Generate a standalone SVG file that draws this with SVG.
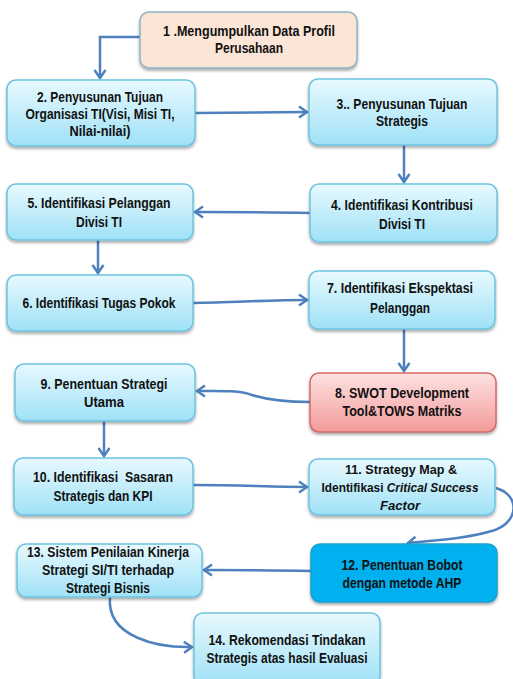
<svg xmlns="http://www.w3.org/2000/svg" width="513" height="679" viewBox="0 0 513 679">
<style>
  text { font-family: "Liberation Sans", Arial, sans-serif; font-weight: bold; font-size: 14px; fill: #111; text-anchor: middle; }
  .sm { font-size: 13px; }
  .it { font-style: italic; }
  .box { fill: url(#cyan); stroke: #6cc3e0; stroke-width: 1.5; filter: url(#sh); }
  .peach { fill: #fbe5d6; stroke: #8fb3c6; stroke-width: 1.5; filter: url(#sh); }
  .red { fill: url(#redg); stroke: #d46a6a; stroke-width: 1.5; filter: url(#sh); }
  .blue { fill: #00b0ef; stroke: #1aa0d0; stroke-width: 1.5; filter: url(#sh); }
  .con { fill: none; stroke: #4f81bd; stroke-width: 2.5; marker-end: url(#arr); }
</style>
<defs>
  <linearGradient id="cyan" x1="0" y1="0" x2="0" y2="1">
    <stop offset="0" stop-color="#e8f9fe"/>
    <stop offset="1" stop-color="#9fe1f7"/>
  </linearGradient>
  <linearGradient id="redg" x1="0" y1="0" x2="0" y2="1">
    <stop offset="0" stop-color="#fde2e2"/>
    <stop offset="1" stop-color="#f49a9a"/>
  </linearGradient>
  <filter id="sh" x="-10%" y="-10%" width="120%" height="130%">
    <feDropShadow dx="0" dy="2" stdDeviation="1.5" flood-color="#000" flood-opacity="0.35"/>
  </filter>
  <marker id="arr" markerUnits="userSpaceOnUse" markerWidth="14" markerHeight="14" viewBox="0 0 14 14" refX="11" refY="7" orient="auto">
    <path d="M3,1.5 L11,7 L3,12.5" fill="none" stroke="#4f81bd" stroke-width="2.5"/>
  </marker>
</defs>

<g id="connectors">
  <path class="con" d="M140,37 H100 V78"/>
  <path class="con" d="M195,113 L307,112"/>
  <path class="con" d="M404,145 V182"/>
  <path class="con" d="M310,213 C270,212 240,212 195,212"/>
  <path class="con" d="M98,240 V273"/>
  <path class="con" d="M193,303 C240,302 270,300 307,300"/>
  <path class="con" d="M404,329 V371"/>
  <path class="con" d="M310,402 C280,402 265,399 252,395 C238,390 220,391 197,391"/>
  <path class="con" d="M104,421 V456"/>
  <path class="con" d="M193,485 C240,485 270,487 307,487"/>
  <path class="con" d="M496,488 C520,495 519,521 495,530 C470,538 440,540 408,543"/>
  <path class="con" d="M311,571 C270,570 240,570 204,570"/>
  <path class="con" d="M110,597 C106,638 160,648 192,647"/>
</g>

<g id="n1">
  <rect class="peach" x="140" y="12" width="217" height="56" rx="9"/>
  <text x="249" y="36" textLength="172" lengthAdjust="spacingAndGlyphs">1 .Mengumpulkan Data Profil</text>
  <text x="249" y="53" textLength="68" lengthAdjust="spacingAndGlyphs">Perusahaan</text>
</g>
<g id="n2">
  <rect class="box" x="7" y="80" width="188" height="66" rx="9"/>
  <text x="100" y="102" textLength="126" lengthAdjust="spacingAndGlyphs">2. Penyusunan Tujuan</text>
  <text x="100" y="119" textLength="149" lengthAdjust="spacingAndGlyphs">Organisasi TI(Visi, Misi TI,</text>
  <text x="100" y="136" textLength="61" lengthAdjust="spacingAndGlyphs">Nilai-nilai)</text>
</g>
<g id="n3">
  <rect class="box" x="309" y="79" width="188" height="66" rx="9"/>
  <text x="402" y="109" textLength="131" lengthAdjust="spacingAndGlyphs">3.. Penyusunan Tujuan</text>
  <text x="402" y="126" textLength="52" lengthAdjust="spacingAndGlyphs">Strategis</text>
</g>
<g id="n4">
  <rect class="box" x="310" y="184" width="187" height="58" rx="9"/>
  <text x="402" y="210" textLength="142" lengthAdjust="spacingAndGlyphs">4. Identifikasi Kontribusi</text>
  <text x="402" y="229" textLength="46" lengthAdjust="spacingAndGlyphs">Divisi TI</text>
</g>
<g id="n5">
  <rect class="box" x="7" y="184" width="186" height="56" rx="9"/>
  <text x="99" y="208" textLength="143" lengthAdjust="spacingAndGlyphs">5. Identifikasi Pelanggan</text>
  <text x="99" y="227" textLength="46" lengthAdjust="spacingAndGlyphs">Divisi TI</text>
</g>
<g id="n6">
  <rect class="box" x="7" y="275" width="186" height="56" rx="9"/>
  <text x="99" y="308" textLength="153" lengthAdjust="spacingAndGlyphs">6. Identifikasi Tugas Pokok</text>
</g>
<g id="n7">
  <rect class="box" x="309" y="271" width="186" height="58" rx="9"/>
  <text x="400" y="293" textLength="146" lengthAdjust="spacingAndGlyphs">7. Identifikasi Ekspektasi</text>
  <text x="400" y="313" textLength="60" lengthAdjust="spacingAndGlyphs">Pelanggan</text>
</g>
<g id="n8">
  <rect class="red" x="310" y="373" width="186" height="59" rx="9"/>
  <text x="402" y="398" textLength="134" lengthAdjust="spacingAndGlyphs">8. SWOT Development</text>
  <text x="402" y="416" textLength="119" lengthAdjust="spacingAndGlyphs">Tool&amp;TOWS Matriks</text>
</g>
<g id="n9">
  <rect class="box" x="15" y="364" width="180" height="57" rx="9"/>
  <text x="104" y="389" textLength="127" lengthAdjust="spacingAndGlyphs">9. Penentuan Strategi</text>
  <text x="104" y="407" textLength="40" lengthAdjust="spacingAndGlyphs">Utama</text>
</g>
<g id="n10">
  <rect class="box" x="14" y="458" width="179" height="57" rx="9"/>
  <text x="103" y="482" textLength="140" lengthAdjust="spacingAndGlyphs" xml:space="preserve">10. Identifikasi  Sasaran</text>
  <text x="103" y="501" textLength="99" lengthAdjust="spacingAndGlyphs">Strategis dan KPI</text>
</g>
<g id="n11">
  <rect class="box" x="309" y="459" width="186" height="56" rx="9"/>
  <text class="sm" x="401" y="474" textLength="112" lengthAdjust="spacingAndGlyphs">11. Strategy Map &amp;</text>
  <text class="sm" x="400" y="492" textLength="157" lengthAdjust="spacingAndGlyphs">Identifikasi <tspan class="it">Critical Success</tspan></text>
  <text class="sm it" x="400" y="510" textLength="40" lengthAdjust="spacingAndGlyphs">Factor</text>
</g>
<g id="n12">
  <rect class="blue" x="311" y="544" width="186" height="58" rx="9"/>
  <text x="402" y="570" textLength="121" lengthAdjust="spacingAndGlyphs">12. Penentuan Bobot</text>
  <text x="402" y="588" textLength="119" lengthAdjust="spacingAndGlyphs">dengan metode AHP</text>
</g>
<g id="n13">
  <rect class="box" x="17" y="544" width="185" height="53" rx="9"/>
  <text x="108" y="557" textLength="162" lengthAdjust="spacingAndGlyphs">13. Sistem Penilaian Kinerja</text>
  <text x="108" y="575" textLength="132" lengthAdjust="spacingAndGlyphs">Strategi SI/TI terhadap</text>
  <text x="108" y="593" textLength="84" lengthAdjust="spacingAndGlyphs">Strategi Bisnis</text>
</g>
<g id="n14">
  <rect class="box" x="194" y="613" width="186" height="72" rx="9"/>
  <text x="287" y="645" textLength="157" lengthAdjust="spacingAndGlyphs">14. Rekomendasi Tindakan</text>
  <text x="287" y="663" textLength="161" lengthAdjust="spacingAndGlyphs">Strategis atas hasil Evaluasi</text>
</g>
</svg>
